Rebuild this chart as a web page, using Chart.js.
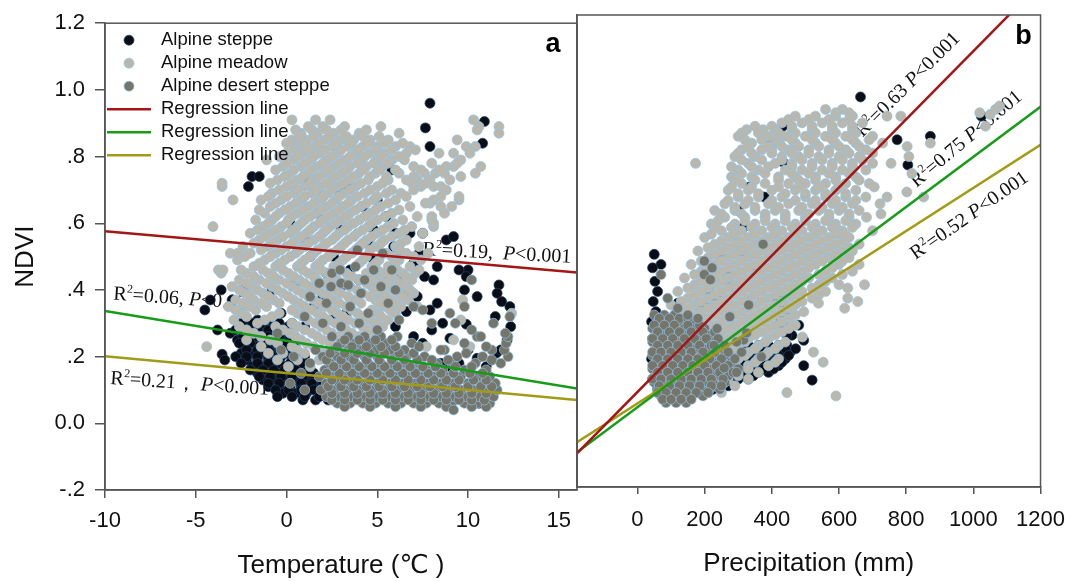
<!DOCTYPE html>
<html>
<head>
<meta charset="utf-8">
<script src="https://cdn.jsdelivr.net/npm/chart.js@4.4.0/dist/chart.umd.min.js"></script>
<style>
  html, body { margin: 0; padding: 0; background: #fff; }
  #wrap { position: relative; width: 1078px; height: 581px; }
  #chartA { position: absolute; left: 0; top: 0; }
  #chartB { position: absolute; left: 560px; top: 0; }
</style>
</head>
<body>
<div id="wrap">
  <canvas id="chartA" width="600" height="581"></canvas>
  <canvas id="chartB" width="518" height="581"></canvas>
</div>
<script>
// ticks
var tempTicks = [-10, -5, 0, 5, 10, 15];
var precTicks = [0, 200, 400, 600, 800, 1000, 1200];
var ndviTicks = [-0.2, 0, 0.2, 0.4, 0.6, 0.8, 1.0, 1.2];
var ndviLabels = ['-.2', '0.0', '.2', '.4', '.6', '.8', '1.0', '1.2'];
var seriesNames = ['Alpine steppe', 'Alpine meadow', 'Alpine desert steppe', 'Regression line', 'Regression line', 'Regression line'];

// panel a: temperature vs NDVI, rows are [ndvi, [temperatures...]]
var meadowArows = [
  [0.91, [0.3, 1.6, 2.4, 10.3]],
  [0.89, [1.2, 2.0, 3.2, 5.2, 10.6, 11.7]],
  [0.87, [0.8, 1.7, 2.6, 4.0, 6.2, 11.7]],
  [0.85, [0.3, 1.1, 2.1, 3.0, 3.7, 4.6, 5.6, 9.4]],
  [0.83, [0.6, 1.5, 2.5, 3.4, 4.2, 5.0, 6.0, 6.8, 9.9, 10.4]],
  [0.81, [0.0, 0.9, 1.8, 2.8, 3.8, 4.6, 5.4, 6.6, 8.4, 9.2, 10.1]],
  [0.79, [-1.1, 0.4, 1.3, 2.2, 3.2, 4.1, 5.0, 5.8, 6.5, 9.6]],
  [0.77, [-0.2, 0.8, 1.7, 2.6, 3.5, 4.4, 5.3, 7.0, 8.8, 9.2, 10.7]],
  [0.75, [0.2, 1.2, 2.1, 3.0, 4.0, 4.9, 6.2, 7.6, 8.2, 8.7, 10.4]],
  [0.73, [-0.5, 0.6, 1.5, 2.5, 3.4, 4.5, 5.6, 6.6, 7.2, 7.9, 9.0]],
  [0.71, [-3.55, 0.0, 1.0, 1.9, 2.8, 3.8, 5.0, 7.4, 8.1, 8.5]],
  [0.69, [-0.8, 0.4, 1.4, 2.3, 3.2, 4.3, 5.5, 6.3]],
  [0.67, [-2.95, -1.4, -0.3, 0.8, 1.8, 2.7, 3.6, 4.8, 6.0, 8.1, 9.5]],
  [0.65, [-0.9, 0.2, 1.2, 2.2, 3.1, 4.1, 5.2, 6.8, 8.5, 9.1]],
  [0.63, [-1.2, -0.4, 0.6, 1.6, 2.6, 3.5, 4.6, 5.8, 8.7]],
  [0.61, [-1.7, -0.8, 0.1, 1.0, 2.0, 3.0, 4.0, 5.0, 6.4, 8.0]],
  [0.59, [-4.05, -1.3, -0.3, 0.6, 1.5, 2.4, 3.4, 4.5, 5.6, 6.9, 8.1]],
  [0.57, [-2.0, -0.9, 0.2, 1.1, 2.0, 2.9, 3.9, 5.0, 6.2, 7.5]],
  [0.55, [-1.5, -0.5, 0.6, 1.5, 2.5, 3.4, 4.4, 5.4, 6.6]],
  [0.53, [-2.4, -1.0, 0.0, 1.0, 2.0, 3.0, 4.0, 4.9, 6.0, 7.3]],
  [0.51, [-3.1, -2.0, -0.6, 0.5, 1.5, 2.5, 3.6, 5.5, 6.6, 7.8]],
  [0.49, [-2.7, -1.2, -0.1, 1.0, 2.0, 3.1, 4.2, 5.1, 6.2, 7.4]],
  [0.47, [-1.8, -0.6, 0.6, 1.6, 2.6, 4.7, 5.6, 6.8]],
  [0.45, [-3.6, -2.2, -1.0, 0.1, 1.2, 2.2, 3.3, 4.4, 5.3, 6.4, 7.1]],
  [0.43, [-2.6, -1.5, -0.4, 0.7, 1.7, 2.8, 4.0, 5.0, 6.0, 6.9]],
  [0.41, [-3.0, -1.9, -0.8, 0.3, 1.3, 2.4, 3.5, 4.7, 5.6, 6.5]],
  [0.39, [-2.3, -1.3, -0.2, 0.9, 2.0, 3.0, 4.2, 5.2, 6.2, 7.0]],
  [0.37, [-2.8, -1.8, -0.7, 0.4, 1.5, 2.6, 3.8, 4.9, 5.8, 6.7, 9.7]],
  [0.35, [-3.2, -2.1, -1.1, 1.0, 2.1, 3.3, 5.4, 6.3, 7.2]],
  [0.33, [-2.5, -0.4, 0.6, 1.7, 2.8, 3.9, 5.0, 6.0, 12.4]],
  [0.31, [-2.9, -1.2, 1.2, 2.3, 3.4, 4.6, 5.6, 9.6]],
  [0.29, [-2.6, -0.6, 0.6, 1.9, 3.0, 4.2, 5.3]],
  [0.27, [-1.8, 0.2, 1.4, 2.5, 3.6, 4.8]],
  [0.25, [-2.2, -0.9, 0.8, 2.0, 3.2, 4.4, 9.2]],
  [0.23, [-4.4, -1.4, 0.3, 1.5, 2.7, 3.8, 7.7, 10.1]],
  [0.21, [-1.0, -0.2, 1.0, 2.2, 3.4, 5.0]],
  [0.19, [-0.5, 0.6, 1.8]],
  [0.17, [0.1, 1.3]],
  [0.88, [0.5, 1.4, 2.2, 3.0, 4.4]],
  [0.86, [0.7, 1.5, 2.4, 3.3, 4.2, 5.1]],
  [0.84, [0.0, 0.9, 1.8, 2.7, 3.6, 4.5, 5.4, 6.4]],
  [0.82, [0.4, 1.2, 2.1, 3.0, 3.9, 4.9, 5.8, 7.1]],
  [0.80, [-0.4, 0.6, 1.5, 2.5, 3.5, 4.3, 5.2, 6.2]],
  [0.78, [0.0, 1.0, 2.0, 2.9, 3.9, 4.8, 5.6, 8.0, 9.4]],
  [0.76, [-0.6, 0.4, 1.4, 2.4, 3.3, 4.2, 5.1, 6.0, 7.4, 8.4]],
  [0.74, [-0.1, 0.9, 1.8, 2.7, 3.7, 4.6, 5.5, 7.0, 9.6]],
  [0.72, [-0.9, 0.3, 1.3, 2.2, 3.1, 4.1, 5.3, 6.9, 7.7]],
  [0.70, [-0.4, 0.6, 1.6, 2.5, 3.5, 4.6, 5.8, 8.8]],
  [0.68, [-1.0, 0.0, 1.0, 2.0, 2.9, 3.9, 5.0, 6.6, 8.5]],
  [0.66, [-0.6, 0.5, 1.5, 2.5, 3.4, 4.4, 5.6, 7.9]],
  [0.64, [-1.5, -0.1, 0.9, 1.9, 2.9, 3.8, 4.9, 6.2]],
  [0.62, [-0.6, 0.3, 1.3, 2.3, 3.3, 4.3, 5.4, 7.2]],
  [0.60, [-1.0, 0.0, 0.8, 1.8, 2.7, 3.7, 4.7, 5.9]],
  [0.58, [-1.6, -0.6, 0.4, 1.3, 2.2, 3.2, 4.2, 5.3, 6.5]],
  [0.56, [-1.2, -0.2, 0.8, 1.8, 2.7, 3.7, 4.7, 5.8]],
  [0.54, [-1.8, -0.8, 0.3, 1.2, 2.2, 3.2, 4.2, 5.2, 6.3]],
  [0.52, [-1.4, -0.3, 0.7, 1.7, 2.8, 3.8, 4.6, 6.2]],
  [0.50, [-2.3, -0.9, 0.2, 1.3, 2.3, 3.3, 4.4, 5.8, 7.0]],
  [0.48, [-1.5, -0.4, 0.8, 1.8, 2.9, 4.0, 4.9, 6.0]],
  [0.46, [-2.5, -1.3, -0.2, 0.9, 1.9, 3.0, 5.0, 6.1, 7.3]],
  [0.44, [-1.8, -0.7, 0.4, 1.5, 2.5, 3.6, 4.7, 5.7, 6.6]],
  [0.42, [-2.2, -1.1, 0.0, 1.0, 2.1, 3.2, 4.4, 5.3, 6.2]],
  [0.40, [-2.6, -1.6, -0.5, 0.6, 1.7, 2.7, 3.9, 4.9, 5.9, 6.8]],
  [0.38, [-2.0, -1.0, 0.1, 1.2, 2.3, 3.4, 4.6, 5.5, 6.4]],
  [0.36, [-2.4, -1.4, -0.4, 0.7, 1.8, 2.9, 4.1, 5.1, 6.0]],
  [0.34, [-2.8, -1.7, 0.3, 1.4, 2.5, 3.6, 4.7, 5.7]],
  [0.32, [-2.2, -0.8, 0.9, 2.0, 3.1, 4.2, 5.2]],
  [0.30, [-1.6, 0.3, 1.6, 2.7, 3.8, 4.9]],
  [0.28, [-2.2, -0.2, 1.0, 2.2, 3.3, 4.5]],
  [0.26, [-1.4, 0.5, 1.7, 2.9, 4.0]],
  [0.24, [-0.5, 1.1, 2.4, 3.5]],
  [0.22, [0.6, 1.8, 3.0]]
];
var meadowAextra = [[-3.55, 0.72], [-2.7, 0.51], [-3.75, 0.46], [-3.5, 0.46], [7.65, 0.66], [8.0, 0.62], [8.1, 0.60], [9.5, 0.68], [7.0, 0.70], [10.5, 0.88]];

var steppeArows = [
  [0.31, [-2.2, -1.6, -0.9]],
  [0.29, [-2.5, -1.9, -1.3, -0.7, 0.1]],
  [0.27, [-3.1, -2.2, -1.6, -1.0, -0.4]],
  [0.25, [-2.7, -1.9, -1.3, -0.7, -0.1, 0.5]],
  [0.23, [-2.3, -1.6, -1.0, -0.4, 0.2]],
  [0.21, [-2.5, -1.9, -1.3, -0.7, 0.0, 0.6]],
  [0.19, [-2.2, -1.6, -1.0, -0.4, 0.3, 0.9]],
  [0.17, [-1.9, -1.3, -0.7, -0.1, 0.6, 1.2]],
  [0.15, [-1.6, -1.0, -0.4, 0.2, 0.9, 1.5]],
  [0.13, [-1.3, -0.7, -0.1, 0.5, 1.2, 1.8]],
  [0.11, [-1.0, -0.4, 0.2, 0.8, 1.5, 2.1]],
  [0.09, [-0.2, 0.5, 1.1, 1.8, 2.4]],
  [0.07, [0.9, 1.6, 2.3]],
  [0.30, [-2.5, -1.9, -1.3, -0.4]],
  [0.28, [-2.8, -2.2, -1.6, -1.0, -0.2]],
  [0.26, [-2.4, -1.6, -1.0, -0.4, 0.2]],
  [0.24, [-2.6, -2.0, -1.3, -0.7, -0.1, 0.5]],
  [0.22, [-2.2, -1.6, -1.0, -0.4, 0.3]],
  [0.20, [-2.8, -2.2, -1.6, -1.0, -0.3, 0.4, 1.0]],
  [0.18, [-2.5, -1.6, -1.0, -0.4, 0.2, 0.9]],
  [0.16, [-2.0, -1.3, -0.7, -0.1, 0.5, 1.2]],
  [0.14, [-1.5, -0.9, -0.3, 0.3, 0.9, 1.5]],
  [0.12, [-1.0, -0.4, 0.2, 0.8, 1.4, 2.0]],
  [0.10, [-0.6, 0.1, 0.8, 1.5, 2.2]],
  [0.08, [0.3, 1.0, 1.8]]
];
var steppeAextra = [
  [-1.9, 0.74], [-2.1, 0.71], [-1.5, 0.74], [2.8, 0.70], [3.2, 0.70], [3.5, 0.71], [1.7, 0.63], [4.2, 0.65],
  [5.0, 0.67], [5.5, 0.62], [3.0, 0.58], [1.0, 0.55], [4.5, 0.54], [5.9, 0.53], [6.2, 0.52], [6.8, 0.57],
  [7.3, 0.51], [4.8, 0.49], [5.5, 0.45], [6.3, 0.44], [7.0, 0.48], [7.6, 0.44], [8.1, 0.43], [8.3, 0.47],
  [6.7, 0.40], [7.2, 0.38], [4.0, 0.43], [3.0, 0.41], [2.0, 0.38], [1.5, 0.35], [-0.8, 0.40], [0.5, 0.42],
  [-0.3, 0.33], [0.3, 0.30], [1.0, 0.29], [2.5, 0.31], [3.3, 0.33], [5.7, 0.36], [6.6, 0.335], [7.9, 0.34],
  [8.3, 0.36], [8.6, 0.30], [9.0, 0.255], [9.9, 0.297], [10.0, 0.22], [10.5, 0.195], [11.0, 0.17], [11.3, 0.19],
  [11.55, 0.21], [11.8, 0.22], [12.15, 0.25], [12.35, 0.29], [11.7, 0.415], [11.6, 0.39], [11.85, 0.365], [12.3, 0.35],
  [11.5, 0.32], [10.0, 0.46], [9.9, 0.44], [8.8, 0.55], [9.2, 0.56], [9.5, 0.46], [7.9, 0.96], [7.65, 0.886],
  [7.9, 0.83], [10.9, 0.905], [10.8, 0.84], [5.8, 0.76], [8.5, 0.18], [9.0, 0.17], [9.5, 0.18], [10.3, 0.14],
  [9.3, 0.12], [8.7, 0.12], [6.5, 0.18], [7.5, 0.24], [8.0, 0.28], [7.0, 0.26], [5.6, 0.22], [6.0, 0.29],
  [-3.6, 0.40], [-4.5, 0.34], [-3.55, 0.207], [-3.4, 0.19], [-3.8, 0.28], [-3.0, 0.37], [-2.4, 0.40], [-4.2, 0.37],
  [10.6, 0.06], [9.0, 0.07], [3.5, 0.46], [2.2, 0.45], [2.6, 0.50], [1.3, 0.50], [0.2, 0.60], [2.0, 0.68],
  [1.2, 0.72], [4.8, 0.58], [-0.5, 0.08], [6.0, 0.57], [7.5, 0.57], [9.8, 0.40], [10.5, 0.38]
];

var desertArows = [
  [0.06, [2.8, 3.5, 4.2, 4.9, 5.6, 6.3, 7.0, 7.7, 8.4, 9.1, 9.8, 10.5, 11.2]],
  [0.08, [2.2, 2.9, 3.6, 4.3, 5.0, 5.7, 6.4, 7.1, 7.8, 8.5, 9.2, 9.9, 10.6, 11.4]],
  [0.10, [1.9, 2.6, 3.3, 4.0, 4.7, 5.4, 6.1, 6.8, 7.5, 8.2, 8.9, 9.6, 10.3, 11.0, 11.6]],
  [0.12, [2.2, 2.9, 3.6, 4.3, 5.0, 5.7, 6.4, 7.1, 7.8, 8.5, 9.2, 10.0, 10.8, 11.5]],
  [0.14, [1.8, 2.5, 3.2, 3.9, 4.6, 5.3, 6.0, 6.7, 7.4, 8.1, 8.8, 9.6, 10.5, 11.2]],
  [0.16, [2.1, 2.8, 3.5, 4.2, 4.9, 5.6, 6.3, 7.0, 7.7, 8.6, 9.8, 11.0]],
  [0.18, [2.4, 3.1, 3.8, 4.5, 5.2, 5.9, 6.6, 7.3, 8.3, 9.1, 10.4, 11.8]],
  [0.20, [2.0, 2.8, 3.5, 4.3, 5.0, 5.8, 6.6, 7.6, 9.4, 10.8, 12.2]],
  [0.22, [2.6, 3.4, 4.1, 4.9, 5.7, 6.5, 8.7, 11.3, 12.0]],
  [0.24, [3.0, 3.8, 4.6, 5.4, 6.9, 9.8, 12.1]],
  [0.26, [2.5, 3.4, 4.3, 5.2, 6.1, 10.5, 12.2]],
  [0.05, [3.2, 4.6, 6.0, 7.4, 8.8, 10.2, 11.0]],
  [0.07, [2.5, 3.2, 3.9, 4.6, 5.3, 6.0, 6.7, 7.4, 8.1, 8.8, 9.5, 10.2, 10.9]],
  [0.09, [2.5, 3.2, 3.9, 4.6, 5.3, 6.0, 6.7, 7.4, 8.1, 8.8, 9.5, 10.2, 11.0]],
  [0.11, [2.3, 3.0, 3.7, 4.4, 5.1, 5.8, 6.5, 7.2, 7.9, 8.6, 9.3, 10.0, 10.7, 11.3]],
  [0.13, [2.5, 3.2, 3.9, 4.6, 5.3, 6.0, 6.7, 7.4, 8.1, 8.8, 9.5, 10.3, 11.0]],
  [0.15, [2.2, 2.9, 3.6, 4.3, 5.0, 5.7, 6.4, 7.1, 7.8, 8.5, 9.2, 10.1, 10.8]],
  [0.17, [2.6, 3.3, 4.0, 4.7, 5.4, 6.1, 6.8, 7.5, 8.2, 9.3, 10.2]],
  [0.19, [2.2, 3.0, 3.7, 4.4, 5.1, 5.8, 6.5, 7.2, 8.0, 8.9, 11.3]],
  [0.21, [2.4, 3.2, 3.9, 4.6, 5.4, 6.2, 7.0, 9.9]],
  [0.23, [2.8, 3.6, 4.4, 5.2, 6.0, 7.3]],
  [0.25, [3.2, 4.0, 4.9, 5.8]]
];
var desertAextra = [
  [3.0, 0.29], [4.0, 0.30], [5.0, 0.28], [6.2, 0.31], [4.5, 0.33], [3.5, 0.35], [5.6, 0.36], [4.1, 0.39],
  [3.0, 0.42], [5.2, 0.41], [6.0, 0.40], [2.5, 0.45], [4.8, 0.46], [3.8, 0.47], [3.4, 0.415], [5.3, 0.51],
  [5.8, 0.46], [3.9, 0.52], [2.95, 0.46], [4.3, 0.43], [7.0, 0.35], [7.5, 0.34], [8.5, 0.22], [9.0, 0.33],
  [9.3, 0.30], [9.8, 0.35], [10.2, 0.28], [10.7, 0.26], [11.4, 0.30], [12.3, 0.32], [12.05, 0.27], [10.2, 0.43],
  [11.0, 0.23], [8.0, 0.30], [-0.3, 0.22], [0.4, 0.20], [0.8, 0.15], [1.3, 0.18], [0.2, 0.12], [1.0, 0.10],
  [1.6, 0.22], [1.0, 0.32], [-0.5, 0.27], [2.0, 0.30], [1.3, 0.38], [2.2, 0.36], [1.8, 0.42], [9.2, 0.04], [2.45, 0.41]
];

// panel a regression lines [temperature, ndvi]
var regAred = [[-10, 0.576], [16, 0.452]];
var regAgreen = [[-10, 0.337], [16, 0.104]];
var regAolive = [[-10, 0.201], [16, 0.070]];

// panel b: precipitation vs NDVI, rows are [ndvi, [precipitation...]]
var meadowBrows = [
  [0.92, [560, 610]],
  [0.90, [470, 530, 590, 640, 743, 784]],
  [0.88, [430, 490, 550, 610, 670]],
  [0.86, [325, 374, 410, 460, 520, 580, 640]],
  [0.84, [300, 390, 440, 500, 560, 620, 700]],
  [0.82, [340, 420, 470, 530, 590, 650, 730]],
  [0.80, [310, 370, 400, 450, 510, 570, 620, 680]],
  [0.78, [290, 350, 430, 480, 540, 600, 660]],
  [0.76, [173, 330, 410, 460, 520, 580, 640, 700]],
  [0.74, [300, 360, 440, 490, 550, 610, 680]],
  [0.72, [280, 340, 420, 470, 530, 590, 650]],
  [0.70, [310, 380, 450, 500, 560, 620, 690]],
  [0.68, [270, 330, 400, 470, 530, 590, 650]],
  [0.66, [300, 360, 430, 500, 560, 620, 680]],
  [0.64, [260, 320, 390, 450, 520, 580, 640]],
  [0.62, [230, 290, 350, 410, 480, 540, 600, 660]],
  [0.60, [260, 320, 380, 440, 500, 570, 630]],
  [0.58, [220, 290, 350, 410, 470, 530, 590, 650]],
  [0.56, [250, 310, 370, 430, 490, 550, 610]],
  [0.54, [200, 270, 330, 390, 450, 510, 570, 630]],
  [0.52, [230, 290, 350, 410, 470, 530, 590, 660]],
  [0.50, [180, 250, 310, 370, 430, 490, 550, 610]],
  [0.48, [210, 270, 330, 390, 450, 510, 570, 630]],
  [0.46, [160, 230, 290, 350, 410, 470, 530, 600]],
  [0.44, [190, 250, 310, 370, 430, 490, 560, 640]],
  [0.42, [140, 210, 270, 330, 390, 450, 510, 580]],
  [0.40, [170, 230, 290, 350, 410, 470, 540, 600]],
  [0.38, [120, 190, 250, 310, 370, 430, 490, 560]],
  [0.36, [150, 210, 270, 330, 390, 450, 520]],
  [0.34, [100, 170, 230, 290, 350, 410, 470]],
  [0.32, [130, 190, 250, 310, 370, 430]],
  [0.30, [80, 150, 210, 270, 330, 390, 450]],
  [0.28, [110, 170, 230, 290, 350, 410, 470]],
  [0.26, [60, 130, 190, 250, 310, 370, 430]],
  [0.24, [90, 150, 210, 270, 330, 390]],
  [0.22, [120, 180, 240, 300, 360, 420]],
  [0.20, [60, 150, 210, 270, 330, 390]],
  [0.18, [100, 180, 240, 300, 360, 420]],
  [0.16, [130, 210, 270, 330, 390]],
  [0.14, [80, 160, 240, 300, 360]],
  [0.12, [110, 190, 270, 330]],
  [0.10, [60, 140, 220, 290]],
  [0.08, [90, 170, 250]],
  [0.91, [590, 630]],
  [0.89, [450, 510, 570, 630]],
  [0.87, [350, 400, 460, 520, 580, 640]],
  [0.85, [310, 360, 420, 470, 530, 590, 650]],
  [0.83, [320, 370, 410, 460, 520, 580, 640, 690]],
  [0.81, [330, 390, 430, 480, 540, 600, 660]],
  [0.79, [300, 340, 400, 460, 510, 570, 630, 700]],
  [0.77, [310, 370, 430, 490, 550, 610, 670]],
  [0.75, [280, 340, 390, 460, 520, 580, 640]],
  [0.73, [310, 380, 460, 510, 570, 630]],
  [0.71, [290, 350, 420, 480, 530, 590, 660]],
  [0.69, [280, 340, 420, 480, 540, 600]],
  [0.67, [300, 360, 440, 500, 560, 620]],
  [0.65, [270, 330, 400, 470, 530, 590, 650]],
  [0.63, [290, 350, 420, 490, 550, 610]],
  [0.61, [250, 310, 380, 440, 510, 570, 630]],
  [0.59, [240, 320, 380, 440, 500, 560, 620]],
  [0.57, [230, 280, 340, 400, 460, 520, 580, 640]],
  [0.55, [220, 290, 350, 410, 470, 530, 590]],
  [0.53, [250, 310, 370, 430, 490, 550, 610]],
  [0.51, [210, 270, 330, 390, 450, 510, 570, 630]],
  [0.49, [230, 290, 350, 410, 470, 530, 590]],
  [0.47, [190, 250, 310, 370, 430, 490, 550, 610]],
  [0.45, [210, 270, 330, 390, 450, 510, 580]],
  [0.43, [170, 230, 290, 350, 410, 470, 540, 610]],
  [0.41, [190, 250, 310, 370, 430, 490, 560]],
  [0.39, [150, 210, 270, 330, 390, 450, 520]],
  [0.37, [170, 230, 290, 350, 410, 470, 540]],
  [0.35, [130, 190, 250, 310, 370, 430, 490]],
  [0.33, [150, 210, 270, 330, 390, 450]],
  [0.31, [110, 170, 230, 290, 350, 410, 470]],
  [0.29, [130, 190, 250, 310, 370, 430]],
  [0.27, [90, 150, 210, 270, 330, 390, 450]],
  [0.25, [110, 170, 230, 290, 350, 410]],
  [0.23, [140, 200, 260, 320, 380, 440]],
  [0.21, [100, 170, 230, 290, 350, 410]],
  [0.19, [120, 200, 260, 320, 380]],
  [0.17, [150, 230, 290, 350, 410]],
  [0.15, [100, 190, 260, 330]],
  [0.13, [140, 220, 300]],
  [0.11, [90, 170, 250]]
];
var meadowBextra = [
  [1019, 0.91], [1036, 0.87], [1050, 0.905], [1066, 0.92], [1078, 0.93], [872, 0.82], [808, 0.78], [803, 0.81],
  [817, 0.73], [755, 0.76], [802, 0.675], [852, 0.66], [705, 0.69], [743, 0.66], [682, 0.60], [725, 0.61],
  [722, 0.64], [700, 0.56], [676, 0.40], [626, 0.39], [626, 0.36], [656, 0.35], [617, 0.33], [539, 0.345],
  [495, 0.32], [491, 0.245], [524, 0.20], [553, 0.17], [591, 0.07], [445, 0.08], [617, 0.55], [640, 0.50], [660, 0.46]
];

var steppeBrows = [
  [0.22, [300, 330, 360, 390, 420, 445]],
  [0.20, [280, 310, 340, 370, 400, 430, 455]],
  [0.18, [260, 290, 320, 350, 380, 410, 440]],
  [0.16, [240, 270, 300, 330, 360, 390, 420]],
  [0.14, [210, 240, 270, 300, 330, 360, 390]],
  [0.12, [180, 210, 240, 270, 300, 330]],
  [0.10, [150, 180, 210, 240, 270]],
  [0.08, [120, 150, 180, 210]],
  [0.06, [80, 110, 140]],
  [0.21, [290, 320, 350, 380, 410, 440]],
  [0.19, [270, 300, 330, 360, 390, 420, 450]],
  [0.17, [250, 280, 310, 340, 370, 400, 430]],
  [0.15, [225, 255, 285, 315, 345, 375, 405]],
  [0.13, [195, 225, 255, 285, 315, 345]],
  [0.11, [165, 195, 225, 255, 285]],
  [0.09, [135, 165, 195, 225]],
  [0.07, [100, 130, 160]]
];
var steppeBextra = [
  [50, 0.49], [70, 0.46], [45, 0.45], [52, 0.41], [60, 0.38], [47, 0.35], [55, 0.32], [42, 0.29],
  [60, 0.27], [45, 0.24], [55, 0.21], [42, 0.18], [50, 0.15], [45, 0.12], [60, 0.09], [120, 0.345],
  [91, 0.30], [111, 0.29], [140, 0.27], [178, 0.34], [203, 0.335], [237, 0.36], [212, 0.38], [334, 0.69],
  [363, 0.665], [378, 0.66], [398, 0.82], [433, 0.87], [433, 0.764], [316, 0.57], [310, 0.50], [266, 0.435],
  [664, 0.957], [773, 0.83], [872, 0.84], [805, 0.755], [1024, 0.90], [520, 0.117], [495, 0.16], [471, 0.21],
  [495, 0.235], [460, 0.25], [480, 0.28], [440, 0.30], [300, 0.62], [290, 0.55], [350, 0.45], [250, 0.48],
  [280, 0.40], [420, 0.37], [430, 0.34], [440, 0.31], [435, 0.28], [445, 0.25], [410, 0.36], [425, 0.30]
];

var desertBrows = [
  [0.31, [50, 80, 110]],
  [0.29, [60, 90, 130, 160]],
  [0.27, [45, 75, 105, 140, 170, 200]],
  [0.25, [55, 85, 115, 150, 185, 215]],
  [0.23, [45, 70, 100, 130, 160, 195, 230]],
  [0.21, [55, 85, 115, 145, 175, 210, 245]],
  [0.19, [45, 70, 100, 130, 160, 190, 225, 260]],
  [0.17, [55, 85, 115, 145, 175, 205, 240, 280]],
  [0.15, [45, 70, 100, 130, 160, 190, 220, 255, 300]],
  [0.13, [55, 85, 115, 145, 175, 205, 235, 270]],
  [0.11, [50, 75, 105, 135, 165, 195, 225, 260]],
  [0.09, [60, 90, 120, 150, 180, 215, 245]],
  [0.07, [70, 100, 130, 160, 195]],
  [0.05, [85, 115, 145]],
  [0.30, [65, 95, 125, 150]],
  [0.28, [50, 80, 110, 150, 185]],
  [0.26, [60, 95, 125, 160, 195, 230]],
  [0.24, [45, 75, 105, 140, 170, 205, 240]],
  [0.22, [60, 90, 120, 150, 185, 220, 260]],
  [0.20, [45, 70, 100, 130, 160, 195, 230, 270]],
  [0.18, [60, 90, 120, 150, 180, 215, 250, 290]],
  [0.16, [45, 75, 105, 135, 165, 200, 235, 270]],
  [0.14, [60, 90, 120, 150, 180, 210, 245, 285]],
  [0.12, [45, 70, 100, 130, 160, 190, 220, 255]],
  [0.10, [65, 95, 125, 155, 185, 220, 250]],
  [0.08, [60, 85, 115, 145, 175, 210]],
  [0.06, [75, 100, 130, 160]]
];
var desertBextra = [
  [199, 0.47], [222, 0.45], [199, 0.43], [217, 0.415], [374, 0.52], [70, 0.43], [331, 0.34], [275, 0.305],
  [237, 0.27], [228, 0.22], [316, 0.236], [295, 0.23], [369, 0.186], [310, 0.20], [258, 0.153], [295, 0.14],
  [325, 0.257], [90, 0.36], [120, 0.33], [150, 0.31], [180, 0.30]
];

// panel b regression lines [precipitation, ndvi]
var regBred = [[-180, -0.100], [1200, 1.295]];
var regBgreen = [[-180, -0.097], [1200, 0.928]];
var regBolive = [[-180, -0.067], [1200, 0.815]];

// R2 notes, anchored in data units
var notesA = [
  { x: 7.47, y: 0.505, angle: 3, r2: '0.19', sep: ',  ', p: '<0.001' },
  { x: -9.56, y: 0.371, angle: 4, r2: '0.06', sep: ', ', p: '<0.05' },
  { x: -9.72, y: 0.118, angle: 4, r2: '0.21', sep: '\uFF0C ', p: '<0.001' }
];
var notesB = [
  { x: 670, y: 0.836, angle: -45, r2: '0.63', sep: ' ', p: '<0.001' },
  { x: 831, y: 0.687, angle: -40, r2: '0.75', sep: ' ', p: '<0.001' },
  { x: 828, y: 0.473, angle: -35, r2: '0.52', sep: ' ', p: '<0.001' }
];

var colSteppe = '#0a0d15', colMeadow = '#bab8ad', colDesert = '#75756a';
var edgeSteppe = '#20426a', edgeLight = '#8ec2e8';
var colRed = '#a31616', colGreen = '#169c16', colOlive = '#a39b17';

function toPoints(rows, extra) {
  var pts = [];
  rows.forEach(function (r) {
    r[1].forEach(function (x) { pts.push({ x: x, y: r[0] }); });
  });
  extra.forEach(function (p) { pts.push({ x: p[0], y: p[1] }); });
  return pts;
}

function dots(label, pts, fill, edge, order) {
  return { label: label, data: pts, backgroundColor: fill, borderColor: edge, borderWidth: 0.7,
    pointRadius: 5, pointHoverRadius: 5, order: order };
}

function reg(label, pairs, color) {
  return { label: label, data: pairs.map(function (p) { return { x: p[0], y: p[1] }; }),
    showLine: true, borderColor: color, backgroundColor: color, borderWidth: 2.5, pointRadius: 0, order: 0 };
}

function drawNote(ctx, n, px, py) {
  var size = 20;
  var parts = [['R', false, false], ['2', false, true], ['=' + n.r2 + n.sep, false, false], ['P', true, false], [n.p, false, false]];
  ctx.save();
  ctx.translate(px, py);
  ctx.rotate(n.angle * Math.PI / 180);
  ctx.fillStyle = '#111';
  ctx.textBaseline = 'alphabetic';
  ctx.textAlign = 'left';
  var x = 0;
  parts.forEach(function (p) {
    var fs = p[2] ? 12 : size;
    ctx.font = (p[1] ? 'italic ' : '') + fs + 'px "Liberation Serif", "DejaVu Serif", serif';
    ctx.fillText(p[0], x, p[2] ? -8 : 0);
    x += ctx.measureText(p[0]).width;
  });
  ctx.restore();
}

function drawLegend(chart, a) {
  var ctx = chart.ctx;
  ctx.save();
  ctx.font = '18.5px "Liberation Sans", Arial, sans-serif';
  ctx.textBaseline = 'middle';
  ctx.textAlign = 'left';
  chart.data.datasets.forEach(function (d, i) {
    var y = a.top + 17 + i * 23;
    if (d.showLine) {
      ctx.strokeStyle = d.borderColor;
      ctx.lineWidth = 2.5;
      ctx.beginPath();
      ctx.moveTo(a.left + 2, y);
      ctx.lineTo(a.left + 46, y);
      ctx.stroke();
    } else {
      ctx.beginPath();
      ctx.arc(a.left + 24, y, 5, 0, Math.PI * 2);
      ctx.fillStyle = d.backgroundColor;
      ctx.fill();
      ctx.lineWidth = 0.7;
      ctx.strokeStyle = d.borderColor;
      ctx.stroke();
    }
    ctx.fillStyle = '#111';
    ctx.fillText(d.label, a.left + 56, y);
  });
  ctx.restore();
}

var panelDecor = {
  id: 'panelDecor',
  beforeDatasetsDraw: function (chart, args, o) {
    var xs = chart.scales.x, ys = chart.scales.y;
    (o.notes || []).forEach(function (n) {
      drawNote(chart.ctx, n, xs.getPixelForValue(n.x), ys.getPixelForValue(n.y));
    });
  },
  afterDraw: function (chart, args, o) {
    var ctx = chart.ctx, a = chart.chartArea;
    ctx.save();
    ctx.strokeStyle = '#555';
    ctx.lineWidth = 1.5;
    ctx.strokeRect(a.left, a.top, a.right - a.left, a.bottom - a.top);
    ctx.fillStyle = '#000';
    ctx.textAlign = 'center';
    ctx.textBaseline = 'middle';
    ctx.font = 'bold 27px "Liberation Sans", Arial, sans-serif';
    ctx.fillText(o.letter, a.right - o.letterDx, a.top + o.letterDy);
    ctx.fillStyle = '#111';
    ctx.font = '26px "Liberation Sans", "DejaVu Sans", Arial, sans-serif';
    ctx.fillText(o.xTitle, (a.left + a.right) / 2, o.xTitleY);
    if (o.yTitle) {
      ctx.translate(o.yTitleX, (a.top + a.bottom) / 2);
      ctx.rotate(-Math.PI / 2);
      ctx.fillText(o.yTitle, 0, 0);
    }
    ctx.restore();
    if (o.legend) drawLegend(chart, a);
  }
};

function axisX(min, max, ticks, height, tickLen, pad) {
  return {
    type: 'linear', min: min, max: max,
    afterBuildTicks: function (s) { s.ticks = ticks.map(function (v) { return { value: v }; }); },
    afterFit: function (s) { s.height = height; },
    grid: { display: true, drawOnChartArea: false, drawTicks: true, tickLength: tickLen, color: '#555', lineWidth: 1.5 },
    border: { display: true, color: '#555', width: 1.5 },
    ticks: { color: '#111', font: { family: 'Liberation Sans', size: 22 }, padding: pad, maxRotation: 0, autoSkip: false,
      callback: function (v) { return String(v); } }
  };
}

Chart.register(panelDecor);

new Chart(document.getElementById('chartA'), {
  type: 'scatter',
  data: {
    datasets: [
      dots(seriesNames[0], toPoints(steppeArows, steppeAextra), colSteppe, edgeSteppe, 3),
      dots(seriesNames[1], toPoints(meadowArows, meadowAextra), colMeadow, edgeLight, 2),
      dots(seriesNames[2], toPoints(desertArows, desertAextra), colDesert, edgeLight, 1),
      reg(seriesNames[3], regAred, colRed),
      reg(seriesNames[4], regAgreen, colGreen),
      reg(seriesNames[5], regAolive, colOlive)
    ]
  },
  options: {
    responsive: false, animation: false, devicePixelRatio: 1,
    layout: { padding: { top: 19, right: 23, left: 0, bottom: 0 } },
    plugins: {
      legend: { display: false }, tooltip: { enabled: false },
      panelDecor: { letter: 'a', letterDx: 24, letterDy: 21, xTitle: 'Temperature (\u2103 )', xTitleY: 566,
        yTitle: 'NDVI', yTitleX: 26, notes: notesA, legend: true }
    },
    scales: {
      x: axisX(-10, 16, tempTicks, 91, 8, 10),
      y: {
        type: 'linear', min: -0.2, max: 1.2,
        afterBuildTicks: function (s) { s.ticks = ndviTicks.map(function (v) { return { value: v }; }); },
        afterFit: function (s) { s.width = 105; },
        grid: { display: true, drawOnChartArea: false, drawTicks: true, tickLength: 10, color: '#555', lineWidth: 1.5 },
        border: { display: true, color: '#555', width: 1.5 },
        ticks: { color: '#111', font: { family: 'Liberation Sans', size: 22 }, padding: 10, autoSkip: false,
          callback: function (v, i) { return ndviLabels[i]; } }
      }
    }
  }
});

new Chart(document.getElementById('chartB'), {
  type: 'scatter',
  data: {
    datasets: [
      dots(seriesNames[0], toPoints(steppeBrows, steppeBextra), colSteppe, edgeSteppe, 3),
      dots(seriesNames[1], toPoints(meadowBrows, meadowBextra), colMeadow, edgeLight, 2),
      dots(seriesNames[2], toPoints(desertBrows, desertBextra), colDesert, edgeLight, 1),
      reg(seriesNames[3], regBred, colRed),
      reg(seriesNames[4], regBgreen, colGreen),
      reg(seriesNames[5], regBolive, colOlive)
    ]
  },
  options: {
    responsive: false, animation: false, devicePixelRatio: 1,
    layout: { padding: { top: 15, right: 29, left: 0, bottom: 0 } },
    plugins: {
      legend: { display: false }, tooltip: { enabled: false },
      panelDecor: { letter: 'b', letterDx: 17, letterDy: 22, xTitle: 'Precipitation (mm)', xTitleY: 564,
        notes: notesB, legend: false }
    },
    scales: {
      x: axisX(-180, 1200, precTicks, 94, 7, 13),
      y: {
        type: 'linear', min: -0.2, max: 1.2,
        afterFit: function (s) { s.width = 17; },
        grid: { display: false },
        border: { display: true, color: '#555', width: 1.5 },
        ticks: { display: false }
      }
    }
  }
});
</script>
</body>
</html>
